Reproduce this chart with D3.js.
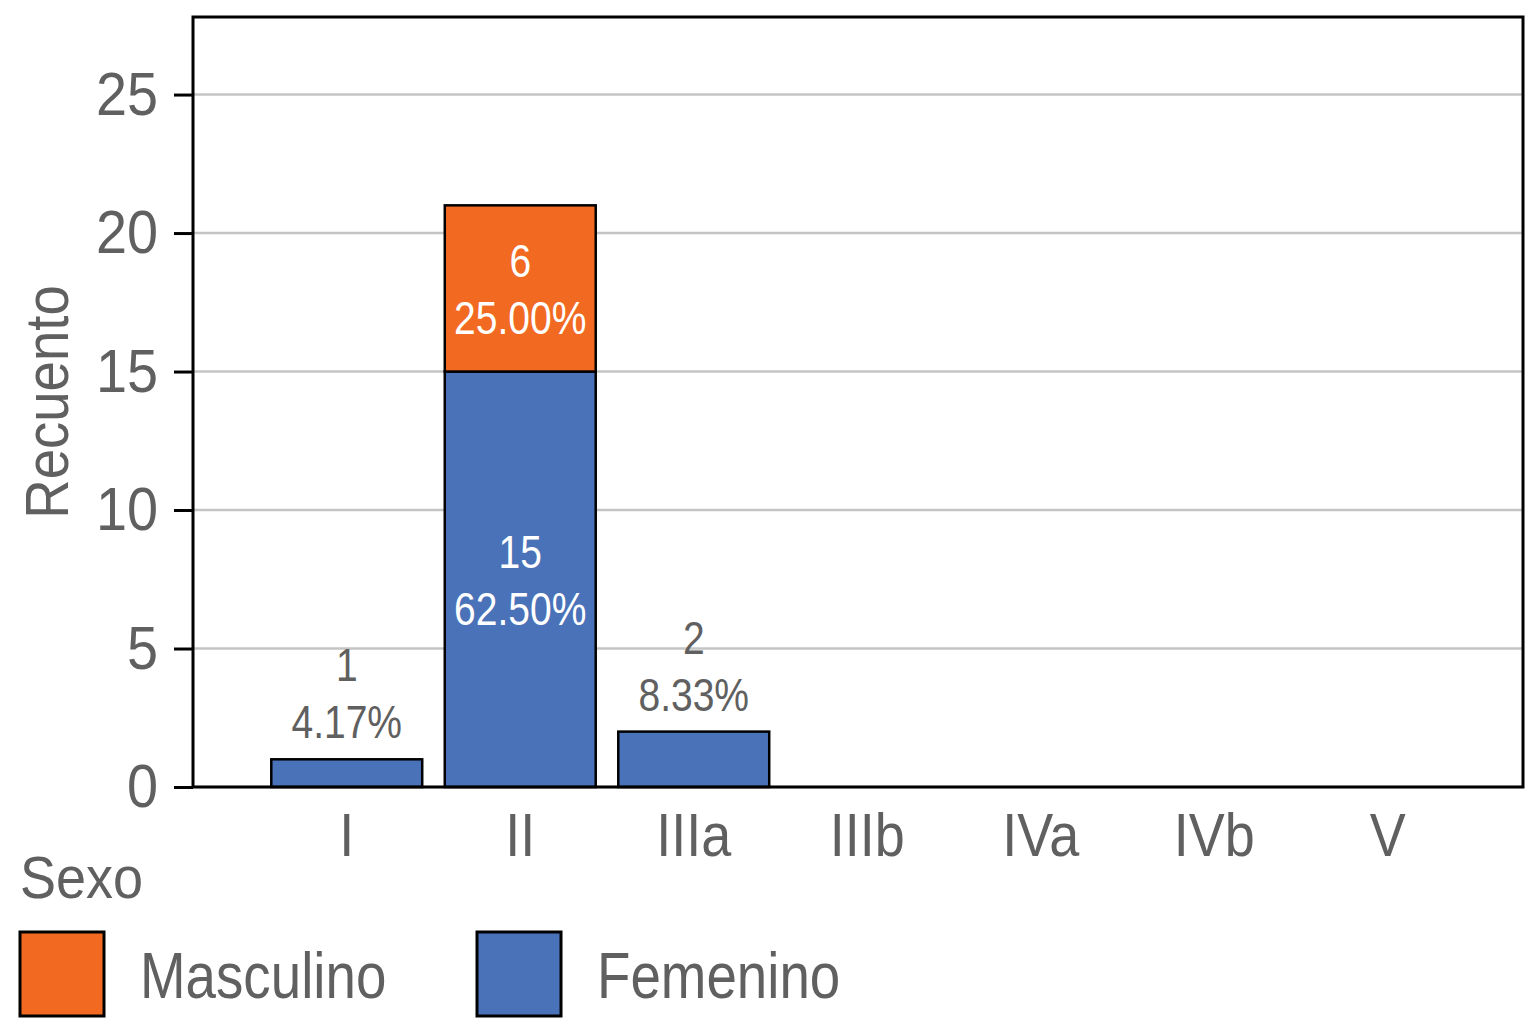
<!DOCTYPE html>
<html>
<head>
<meta charset="utf-8">
<script src="https://cdn.jsdelivr.net/npm/d3@7"></script>
<style>
  body { margin: 0; background: #fff; }
  text { font-family: "Liberation Sans", Arial, sans-serif; }
</style>
</head>
<body>
<svg id="chart" width="1526" height="1024"></svg>
<script>
const categories = ['I', 'II', 'IIIa', 'IIIb', 'IVa', 'IVb', 'V']
const femenino = [1, 15, 2, 0, 0, 0, 0]
const masculino = [0, 6, 0, 0, 0, 0, 0]
const yTicks = [0, 5, 10, 15, 20, 25]
const legendKeys = ['Masculino', 'Femenino']

const colors = { Masculino: '#f26a22', Femenino: '#4a72b8' }
const grey = '#606060'

const panel = { left: 193, right: 1523, top: 17, bottom: 787 }

const total = d3.sum(femenino) + d3.sum(masculino)
const rows = categories.map((c, i) => ({ cat: c, Femenino: femenino[i], Masculino: masculino[i] }))
const series = d3.stack().keys(['Femenino', 'Masculino'])(rows)

const x = d3.scaleBand()
  .domain(categories)
  .range([260, 1474.5])
  .paddingInner(0.13)
  .paddingOuter(0.065)

const y = d3.scaleLinear()
  .domain([0, 27.8])
  .range([panel.bottom, panel.top])

const svg = d3.select('#chart')

// no narrow font installed, so Liberation Sans gets squeezed in place
function narrow(sel, k) {
  sel.each(function () {
    const t = d3.select(this)
    const tx = +t.attr('x') || 0
    const ty = +t.attr('y') || 0
    const prev = t.attr('transform') || ''
    t.attr('x', 0).attr('y', 0)
      .attr('transform', `${prev} translate(${tx},${ty}) scale(${k},1)`)
  })
}

// grid
svg.append('g')
  .selectAll('line')
  .data(yTicks)
  .enter()
  .append('line')
  .attr('x1', panel.left)
  .attr('x2', panel.right)
  .attr('y1', (d) => y(d))
  .attr('y2', (d) => y(d))
  .attr('stroke', '#c4c4c4')
  .attr('stroke-width', 2.5)

// bars
svg.append('g')
  .selectAll('g')
  .data(series)
  .enter()
  .append('g')
  .attr('fill', (s) => colors[s.key])
  .selectAll('rect')
  .data((s) => s.filter((d) => d[1] > d[0]))
  .enter()
  .append('rect')
  .attr('x', (d) => x(d.data.cat))
  .attr('width', x.bandwidth())
  .attr('y', (d) => y(d[1]))
  .attr('height', (d) => y(d[0]) - y(d[1]))
  .attr('stroke', '#000')
  .attr('stroke-width', 2.5)

// labels
const labels = []
series.forEach((s) => {
  s.forEach((d) => {
    const v = d[1] - d[0]
    if (v <= 0) return
    const inside = v >= 5
    labels.push({
      cat: d.data.cat,
      lines: [String(v), (v / total * 100).toFixed(2) + '%'],
      inside: inside,
      yMid: inside ? y((d[0] + d[1]) / 2) : null,
      yTop: y(d[1]),
    })
  })
})

const lineH = 57
const labelG = svg.append('g')
labels.forEach((l) => {
  const base = l.inside ? l.yMid + 17 - lineH / 2 : l.yTop - 21 - lineH
  l.lines.forEach((txt, i) => {
    labelG.append('text')
      .attr('x', x(l.cat) + x.bandwidth() / 2)
      .attr('y', base + i * lineH)
      .attr('text-anchor', 'middle')
      .attr('font-size', 47)
      .attr('fill', l.inside ? '#fff' : grey)
      .text(txt)
      .call(narrow, 0.83)
  })
})

// panel border
svg.append('rect')
  .attr('x', panel.left)
  .attr('y', panel.top)
  .attr('width', panel.right - panel.left)
  .attr('height', panel.bottom - panel.top)
  .attr('fill', 'none')
  .attr('stroke', '#000')
  .attr('stroke-width', 3)

// y axis
const yAxis = svg.append('g')
  .attr('transform', `translate(${panel.left},0)`)
  .call(d3.axisLeft(y).tickValues(yTicks).tickSize(19).tickPadding(16))
yAxis.select('.domain').remove()
yAxis.selectAll('line').attr('stroke', '#000').attr('stroke-width', 3)
yAxis.selectAll('text')
  .attr('font-size', 62)
  .attr('fill', grey)
  .attr('font-family', '"Liberation Sans", Arial, sans-serif')
  .call(narrow, 0.9)

// x axis
const xAxis = svg.append('g')
  .attr('transform', `translate(0,${panel.bottom})`)
  .call(d3.axisBottom(x).tickSize(0).tickPadding(25))
xAxis.select('.domain').remove()
xAxis.selectAll('text')
  .attr('font-size', 62)
  .attr('fill', grey)
  .attr('font-family', '"Liberation Sans", Arial, sans-serif')
  .call(narrow, 0.87)

// axis title
svg.append('text')
  .attr('transform', `translate(68,${(panel.top + panel.bottom) / 2}) rotate(-90) scale(0.88,1)`)
  .attr('text-anchor', 'middle')
  .attr('font-size', 62)
  .attr('fill', grey)
  .text('Recuento')

// legend
svg.append('text')
  .attr('x', 20)
  .attr('y', 898)
  .attr('font-size', 60)
  .attr('fill', grey)
  .text('Sexo')
  .call(narrow, 0.9)

const legend = svg.append('g')
  .selectAll('g')
  .data(legendKeys)
  .enter()
  .append('g')
  .attr('transform', (d, i) => `translate(${20 + i * 457},932)`)

legend.append('rect')
  .attr('width', 84)
  .attr('height', 84)
  .attr('fill', (d) => colors[d])
  .attr('stroke', '#000')
  .attr('stroke-width', 3)

legend.append('text')
  .attr('x', 120)
  .attr('y', 66)
  .attr('font-size', 64)
  .attr('fill', grey)
  .text((d) => d)
  .call(narrow, 0.855)
</script>
</body>
</html>
